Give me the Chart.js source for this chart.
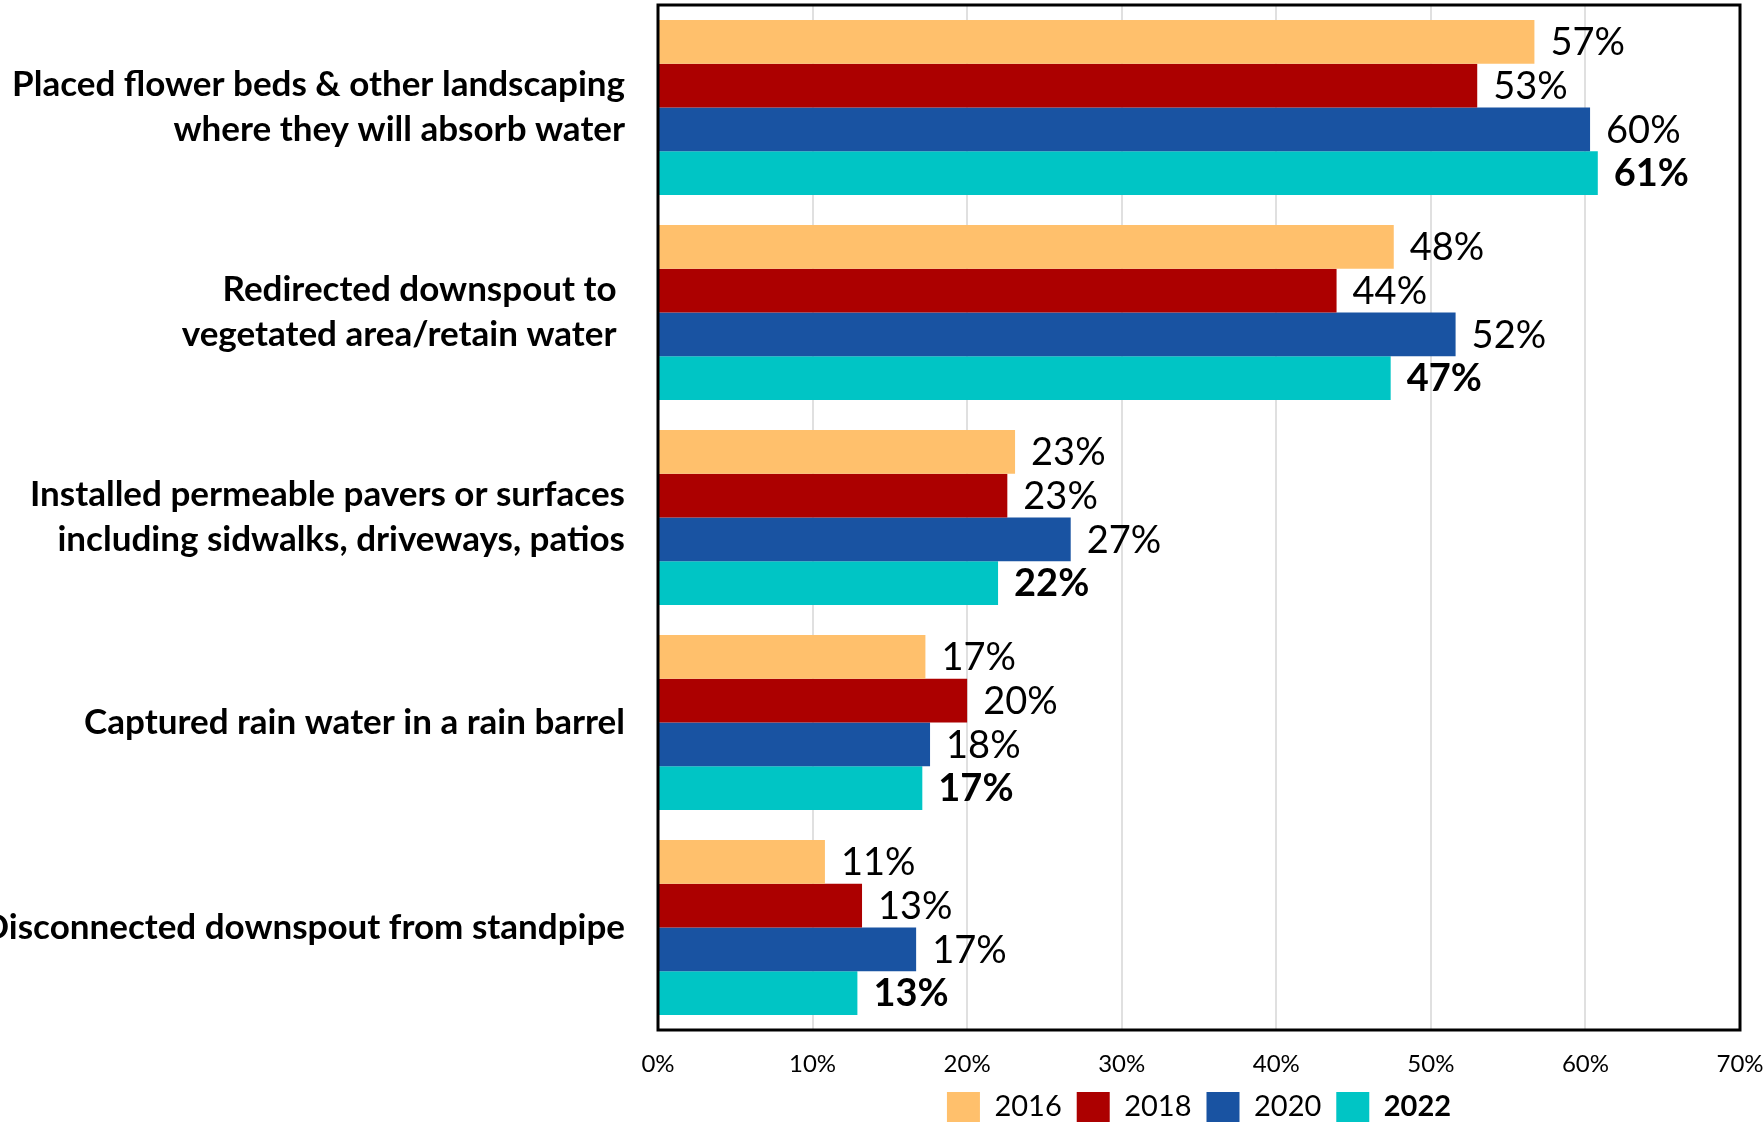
<!DOCTYPE html>
<html>
<head>
<meta charset="utf-8">
<script src="https://cdn.jsdelivr.net/npm/chart.js@4.4.1/dist/chart.umd.min.js"></script>
<style>
  html, body { margin: 0; padding: 0; background: #ffffff; }
  #wrap { width: 1763px; height: 1123px; }
</style>
</head>
<body>
<div id="wrap"><canvas id="c" width="1763" height="1123"></canvas></div>
<script>
const categories = [
  ['Placed flower beds & other landscaping', 'where they will absorb water'],
  ['Redirected downspout to ', 'vegetated area/retain water '],
  ['Installed permeable pavers or surfaces', 'including sidwalks, driveways, patios'],
  'Captured rain water in a rain barrel',
  'Disconnected downspout from standpipe'
];
const seriesNames = ['2016', '2018', '2020', '2022'];
const values2016 = [56.7, 47.6, 23.1, 17.3, 10.8];
const values2018 = [53.0, 43.9, 22.6, 20.0, 13.2];
const values2020 = [60.3, 51.6, 26.7, 17.6, 16.7];
const values2022 = [60.8, 47.4, 22.0, 17.1, 12.9];
const xTicks = [0, 10, 20, 30, 40, 50, 60, 70];
const seriesColors = ['#FFC06C', '#AC0000', '#1953A2', '#00C5C5'];

const FONT = 'Lato, "Open Sans", sans-serif';

const dataLabelPlugin = {
  id: 'dataLabels',
  afterDatasetsDraw(chart) {
    const ctx = chart.ctx;
    ctx.save();
    chart.data.datasets.forEach((ds, di) => {
      const meta = chart.getDatasetMeta(di);
      meta.data.forEach((el, i) => {
        const v = ds.data[i];
        ctx.font = (di === 3 ? 'bold ' : '') + '38px ' + FONT;
        ctx.fillStyle = '#000000';
        ctx.textAlign = 'left';
        ctx.textBaseline = 'middle';
        ctx.fillText(Math.round(v) + '%', el.x + 16, el.y + 1);
      });
    });
    ctx.restore();
  }
};

const frameAndLegendPlugin = {
  id: 'frameAndLegend',
  afterDraw(chart) {
    const ctx = chart.ctx;
    const a = chart.chartArea;
    ctx.save();
    ctx.strokeStyle = '#000000';
    ctx.lineWidth = 3;
    ctx.strokeRect(a.left, a.top, a.right - a.left, a.bottom - a.top);
    const lg = chart.legend;
    if (lg && lg.legendHitBoxes && lg.legendHitBoxes[3]) {
      const hb = lg.legendHitBoxes[3];
      const fs = 29;
      ctx.font = 'bold ' + fs + 'px ' + FONT;
      ctx.fillStyle = '#000000';
      ctx.textAlign = 'left';
      ctx.textBaseline = 'middle';
      ctx.fillText(seriesNames[3], hb.left + 33 + fs / 2, hb.top + hb.height / 2);
    }
    ctx.restore();
  }
};

const seriesValues = [values2016, values2018, values2020, values2022];

new Chart(document.getElementById('c'), {
  type: 'bar',
  data: {
    labels: categories,
    datasets: seriesNames.map((n, i) => ({
      label: n,
      data: seriesValues[i],
      backgroundColor: seriesColors[i],
      borderWidth: 0,
      categoryPercentage: 0.853,
      barPercentage: 1.0
    }))
  },
  options: {
    indexAxis: 'y',
    responsive: false,
    devicePixelRatio: 1,
    animation: false,
    layout: { padding: { left: 0, right: 23, top: 5, bottom: -9 } },
    scales: {
      x: {
        min: 0,
        max: 70,
        afterBuildTicks(scale) { scale.ticks = xTicks.map(v => ({ value: v })); },
        afterFit(scale) {
          scale.height = 47;
          scale.paddingLeft = 0; scale.paddingRight = 0;
          scale.paddingTop = 0; scale.paddingBottom = 0;
        },
        ticks: {
          callback: v => v + '%',
          color: '#000000',
          font: { family: FONT, size: 24 },
          padding: 20,
          maxRotation: 0,
          autoSkip: false
        },
        grid: { color: '#E0E0E0', lineWidth: 2, drawTicks: false },
        border: { display: false }
      },
      y: {
        afterFit(scale) {
          scale.width = 658;
          scale.paddingLeft = 0; scale.paddingRight = 0;
          scale.paddingTop = 0; scale.paddingBottom = 0;
        },
        ticks: {
          color: '#000000',
          font: { family: FONT, size: 35, weight: 'bold', lineHeight: 1.286 },
          padding: 33,
          autoSkip: false
        },
        grid: { display: false, drawTicks: false },
        border: { display: false }
      }
    },
    plugins: {
      tooltip: { enabled: false },
      legend: {
        position: 'bottom',
        fullSize: false,
        labels: {
          boxWidth: 33,
          boxHeight: 30,
          padding: 15,
          color: '#000000',
          font: { family: FONT, size: 29 },
          generateLabels(chart) {
            const items = Chart.defaults.plugins.legend.labels.generateLabels(chart);
            items.forEach((it, i) => { it.lineWidth = 0; if (i === 3) it.fontColor = 'rgba(0,0,0,0)'; });
            return items;
          }
        }
      }
    }
  },
  plugins: [dataLabelPlugin, frameAndLegendPlugin]
});
</script>
</body>
</html>
